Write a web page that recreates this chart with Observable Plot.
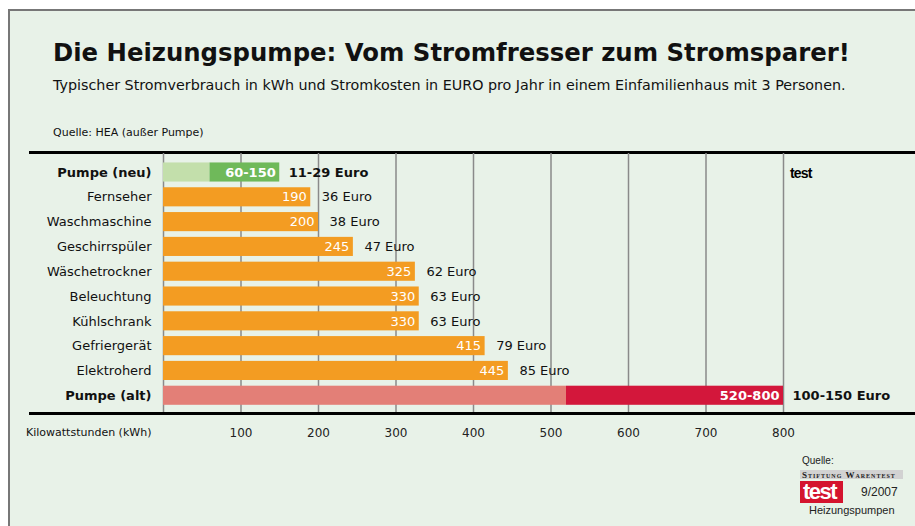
<!DOCTYPE html>
<html>
<head>
<meta charset="utf-8">
<script src="https://cdn.jsdelivr.net/npm/d3@7"></script>
<script src="https://cdn.jsdelivr.net/npm/@observablehq/plot@0.6"></script>
<style>
  html, body { margin: 0; padding: 0; background: #ffffff; width: 915px; height: 526px; overflow: hidden; }
  .abs { position: absolute; white-space: nowrap; line-height: 1; }
  #frame { position: absolute; left: 8px; top: 9px; width: 930px; height: 540px; background: #e8f2e8;
           border-left: 2px solid #777; border-top: 2px solid #777; }
  .dv { font-family: "DejaVu Sans", Verdana, sans-serif; color: #111; }
  .ar { font-family: "Liberation Sans", Arial, sans-serif; color: #222; }
  .hline { position: absolute; left: 29px; width: 890px; height: 3px; background: #000; }
  #chart { position: absolute; left: 0; top: 140px; }
</style>
</head>
<body>
<div id="frame"></div>
<div class="abs dv" style="left:53px; top:41px; font-size:24.35px; font-weight:bold;">Die Heizungspumpe: Vom Stromfresser zum Stromsparer!</div>
<div class="abs dv" style="left:53px; top:78px; font-size:14.3px;">Typischer Stromverbrauch in kWh und Stromkosten in EURO pro Jahr in einem Einfamilienhaus mit 3 Personen.</div>
<div class="abs dv" style="left:53px; top:126.5px; font-size:11px;">Quelle: HEA (außer Pumpe)</div>
<div class="hline" style="top:150.5px;"></div>
<div class="hline" style="top:411.5px;"></div>
<div id="chart"></div>
<div class="abs dv" style="left:26px; top:426.5px; font-size:11px;">Kilowattstunden (kWh)</div>
<div class="abs ar" style="left:790px; top:166px; font-size:14px; font-weight:bold; color:#000; letter-spacing:-0.8px;">test</div>
<div class="abs ar" style="left:802px; top:456px; font-size:10px;">Quelle:</div>
<div class="abs" style="left:800px; top:470px; width:103px; height:9px; background:#d2d2d2;"></div>
<div class="abs" style="left:802px; top:470.5px; font-family:'Liberation Serif', serif; font-weight:bold; font-size:9px; font-variant:small-caps; letter-spacing:1px; color:#222;">Stiftung Warentest</div>
<div class="abs" style="left:800px; top:481px; width:43px; height:22px; background:#d4142e;"></div>
<div class="abs ar" style="left:803px; top:481px; font-size:22px; font-weight:bold; color:#fff; letter-spacing:-1.5px;">test</div>
<div class="abs ar" style="left:861px; top:486px; font-size:12px;">9/2007</div>
<div class="abs ar" style="left:809px; top:504.5px; font-size:11px;">Heizungspumpen</div>
<script>
const categories = ["Pumpe (neu)", "Fernseher", "Waschmaschine", "Geschirrspüler", "Wäschetrockner", "Beleuchtung", "Kühlschrank", "Gefriergerät", "Elektroherd", "Pumpe (alt)"];
const kwhLow  = [60, 190, 200, 245, 325, 330, 330, 415, 445, 520];
const kwhHigh = [150, 190, 200, 245, 325, 330, 330, 415, 445, 800];
const euroLabels = ["11-29", "36", "38", "47", "62", "63", "63", "79", "85", "100-150"];
const xTicks = [100, 200, 300, 400, 500, 600, 700, 800];
const gridValues = [0, 100, 200, 300, 400, 500, 600, 700, 800];

const ORANGE = "#f39c22", LIGHTGREEN = "#c3dfab", GREEN = "#6fb95a", SALMON = "#e37f77", CRIMSON = "#d3173b";
const rows = categories.map((cat, i) => ({
  cat, lo: kwhLow[i], hi: kwhHigh[i], euro: euroLabels[i],
  pump: cat.startsWith("Pumpe"),
  light: cat === "Pumpe (neu)" ? LIGHTGREEN : cat === "Pumpe (alt)" ? SALMON : ORANGE,
  dark: cat === "Pumpe (neu)" ? GREEN : CRIMSON
}));
const rangeRows = rows.filter(d => d.hi > d.lo);
const valueText = d => d.hi > d.lo ? `${d.lo}-${d.hi}` : String(d.hi);

const chart = Plot.plot({
  width: 915, height: 310,
  marginLeft: 163, marginRight: 132, marginTop: 13, marginBottom: 38,
  style: { background: "transparent", fontFamily: "DejaVu Sans, Verdana, sans-serif", fontSize: "13px", overflow: "visible" },
  x: { domain: [0, 800], label: null },
  y: { domain: categories, range: [16.75, 270.5], padding: 0.23, round: false, label: null, axis: null },
  marks: [
    Plot.ruleX(gridValues, { x: d => d, stroke: "#8a8a8a", strokeWidth: 1.5 }),
    Plot.barX(rows, { y: "cat", x1: 0, x2: "lo", fill: d => d.light }),
    Plot.barX(rangeRows, { y: "cat", x1: "lo", x2: "hi", fill: d => d.dark }),
    Plot.text(rows.filter(d => !d.pump), { y: "cat", x: "hi", text: valueText, textAnchor: "end", dx: -4, fill: "#fff", fontSize: 13 }),
    Plot.text(rows.filter(d => d.pump), { y: "cat", x: "hi", text: valueText, textAnchor: "end", dx: -4, fill: "#fff", fontSize: 13, fontWeight: "bold" }),
    Plot.text(rows.filter(d => !d.pump), { y: "cat", x: "hi", text: d => d.euro + " Euro", textAnchor: "start", dx: 11, fill: "#111", fontSize: 13 }),
    Plot.text(rows.filter(d => d.pump), { y: "cat", x: "hi", text: d => d.euro + " Euro", textAnchor: "start", dx: 9, fill: "#111", fontSize: 13, fontWeight: "bold" }),
    Plot.text(rows.filter(d => !d.pump), { y: "cat", x: 0, text: "cat", textAnchor: "end", dx: -12, fill: "#111", fontSize: 13 }),
    Plot.text(rows.filter(d => d.pump), { y: "cat", x: 0, text: "cat", textAnchor: "end", dx: -12, fill: "#111", fontSize: 13, fontWeight: "bold" }),
    Plot.axisX({ ticks: xTicks, tickSize: 0, tickPadding: 16, fontSize: 12, fill: "#222", label: null, anchor: "bottom" })
  ]
});
document.getElementById("chart").appendChild(chart);
</script>
</body>
</html>
